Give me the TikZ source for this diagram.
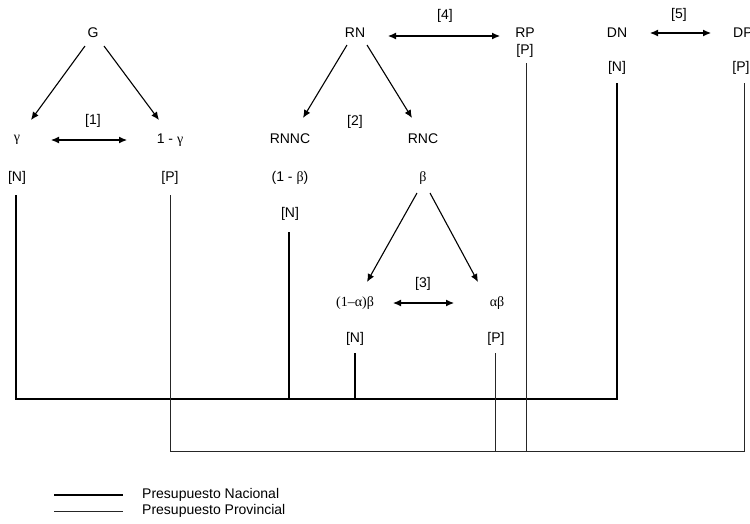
\documentclass[tikz,border=0pt]{standalone}
\usepackage{fontspec}
\setmainfont{Liberation Sans}
\newfontfamily\grk{Liberation Serif}
\usetikzlibrary{arrows.meta}
\begin{document}
\begin{tikzpicture}[x=1pt,y=-1pt,
  lbl/.style={inner sep=0pt,font=\fontsize{14}{16}\selectfont},
  gr/.style={inner sep=0pt,font=\fontsize{14}{16}\selectfont\grk},
  arr/.style={line width=1.1pt,-{Latex[length=8pt,width=7pt]}},
  darr/.style={line width=1.1pt,{Latex[length=8pt,width=7pt]}-{Latex[length=8pt,width=7pt]}},
  natl/.style={line width=2.8pt},
  prov/.style={line width=0.9pt,black!85}]
\useasboundingbox (0,0) rectangle (750,523);
% top nodes
\node[lbl] (G) at (93,33) {G};
\node[gr] (gam) at (17,140) {γ};
\node[lbl] (omg) at (170,140) {1 - {\grk γ}};
\node[lbl] (l1) at (93,121) {[1]};
\node[lbl] (gN) at (17,178) {[N]};
\node[lbl] (gP) at (170,178) {[P]};
\node[lbl] (RN) at (355,33) {RN};
\node[lbl] (l4) at (445,16) {[4]};
\node[lbl] (RP) at (525,33) {RP};
\node[lbl] (rpP) at (525,51) {[P]};
\node[lbl] (DN) at (617,33) {DN};
\node[lbl] (l5) at (679,15) {[5]};
\node[lbl,anchor=west] (DP) at (733,33) {DP};
\node[lbl] (dnN) at (617,68) {[N]};
\node[lbl] (dpP) at (741,68) {[P]};
\node[lbl] (RNNC) at (290,139) {RNNC};
\node[lbl] (RNC) at (423,139) {RNC};
\node[lbl] (l2) at (355,122) {[2]};
\node[lbl] (omb) at (290,178) {(1 - {\grk β})};
\node[gr] (bet) at (423,178) {β};
\node[lbl] (rnN) at (290,214) {[N]};
\node[lbl] (l3) at (423,284) {[3]};
\node[gr] (oab) at (355,303) {(1–α)β};
\node[gr] (ab) at (497,303) {αβ};
\node[lbl] (abN) at (355,339) {[N]};
\node[lbl] (abP) at (496,339) {[P]};
% arrows
\draw[arr] ([shift={(-8pt,-13pt)}]G.center) -- ([shift={(14pt,20pt)}]gam.center);
\draw[arr] ([shift={(11pt,-13pt)}]G.center) -- ([shift={(-11pt,20pt)}]omg.center);
\draw[darr] ([xshift=34pt]gam.center) -- ([xshift=-43pt]omg.center);
\draw[arr] ([shift={(-8pt,-12pt)}]RN.center) -- ([shift={(13pt,21pt)}]RNNC.center);
\draw[arr] ([shift={(12pt,-12pt)}]RN.center) -- ([shift={(-11pt,21pt)}]RNC.center);
\draw[darr] ([shift={(33pt,-3pt)}]RN.center) -- ([shift={(-25pt,-3pt)}]RP.center);
\draw[darr] ([xshift=33pt]DN.center) -- ([xshift=-22pt]DP.west);
\draw[arr] ([shift={(-6pt,-15pt)}]bet.center) -- ([shift={(12pt,21pt)}]oab.center);
\draw[arr] ([shift={(7pt,-15pt)}]bet.center) -- ([shift={(-19pt,21pt)}]ab.center);
\draw[darr] ([xshift=38pt]oab.center) -- ([xshift=-43pt]ab.center);
% budget lines
\coordinate (bR) at (617,399);
\coordinate (tR) at (744,451);
\draw[natl] ([shift={(-1pt,-17pt)}]gN.center) |- (bR) -- ([yshift=-15pt]dnN.center);
\draw[natl] ([shift={(-1pt,-18pt)}]rnN.center) -- ([xshift=-1pt]rnN.center |- bR);
\draw[natl] ([yshift=-14pt]abN.center) -- (abN.center |- bR);
\draw[prov] ([yshift=-17pt]gP.center) |- (tR) -- ([shift={(3pt,-15pt)}]dpP.center);
\draw[prov] ([shift={(1pt,-12pt)}]rpP.center) -- ([xshift=1pt]rpP.center |- tR);
\draw[prov] ([shift={(-1pt,-14pt)}]abP.center) -- ([xshift=-1pt]abP.center |- tR);
% legend
\coordinate (la1) at (54,495);
\coordinate (la2) at (123,495);
\coordinate (lb1) at (54,511);
\coordinate (lb2) at (123,511);
\draw[natl] (la1) -- (la2);
\draw[prov] (lb1) -- (lb2);
\node[lbl,anchor=west] (tn) at (142,495) {Presupuesto Nacional};
\node[lbl,anchor=west] (tp) at (142,511) {Presupuesto Provincial};
\end{tikzpicture}
\end{document}
